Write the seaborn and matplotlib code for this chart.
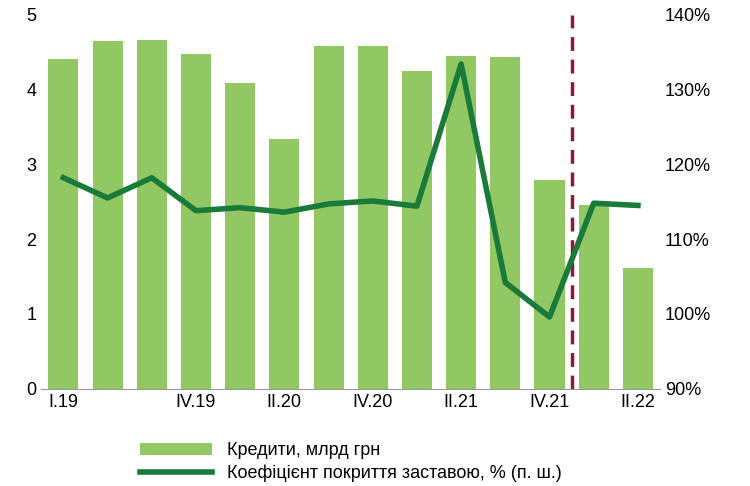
import matplotlib
matplotlib.use("Agg")
import matplotlib.pyplot as plt
import seaborn as sns
import pandas as pd
from matplotlib.ticker import FuncFormatter

quarters = ["I.19", "II.19", "III.19", "IV.19", "I.20", "II.20", "III.20", "IV.20",
            "I.21", "II.21", "III.21", "IV.21", "I.22", "II.22"]
loans = [4.40, 4.65, 4.66, 4.47, 4.09, 3.34, 4.58, 4.58, 4.25, 4.44, 4.43, 2.79, 2.45, 1.61]
coverage = [118.2, 115.5, 118.2, 113.8, 114.2, 113.6, 114.7, 115.1, 114.4, 133.4, 104.2, 99.6, 114.8, 114.5]
shown_ticks = ["I.19", "IV.19", "II.20", "IV.20", "II.21", "IV.21", "II.22"]

df = pd.DataFrame({"q": quarters, "loans": loans, "cov": coverage})
df["x"] = range(len(df))

plt.rcParams["font.family"] = "Liberation Sans"
fig, ax = plt.subplots(figsize=(7.5, 4.86), dpi=100)
fig.subplots_adjust(left=0.055, right=0.88, top=0.97, bottom=0.2)

sns.barplot(data=df, x="x", y="loans", color="#92c864", width=0.68, ax=ax,
            label="Кредити, млрд грн", saturation=1)
ax.set_ylim(0, 5)
ax.set_xlim(-0.5, len(df) - 0.5)
ax.set_yticks(range(6))
ax.set_xticks([quarters.index(t) for t in shown_ticks])
ax.set_xticklabels(shown_ticks)
ax.set_xlabel("")
ax.set_ylabel("")
ax.tick_params(labelsize=13, length=0)
ax.axvline(11.5, color="#8b1a3a", ls=(0, (4, 2.5)), lw=2.5)

ax2 = ax.twinx()
sns.lineplot(data=df, x="x", y="cov", color="#1a7a3a", lw=4, ax=ax2,
             label="Коефіцієнт покриття заставою, % (п. ш.)", legend=False)
ax2.set_ylim(90, 140)
ax2.set_yticks(range(90, 141, 10))
ax2.yaxis.set_major_formatter(FuncFormatter(lambda v, p: f"{v:.0f}%"))
ax2.set_ylabel("")
ax2.tick_params(labelsize=13, length=0)

for a in (ax, ax2):
    for s in a.spines.values():
        s.set_visible(False)
ax.spines["bottom"].set_visible(True)
ax.spines["bottom"].set_color("#999999")

h1, l1 = ax.get_legend_handles_labels()
h2, l2 = ax2.get_legend_handles_labels()
ax.legend(h1 + h2, l1 + l2, loc="upper center", bbox_to_anchor=(0.5, -0.1),
          frameon=False, fontsize=13, handlelength=4, labelspacing=0.3)
ax2.set_xlim(-0.5, len(df) - 0.5)
fig.savefig("out.png")
